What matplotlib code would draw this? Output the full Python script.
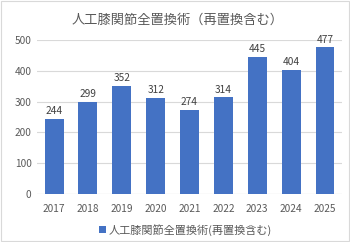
import matplotlib
matplotlib.use("Agg")
import matplotlib.pyplot as plt
from matplotlib.patches import Rectangle

plt.rcParams['font.family'] = ['Noto Sans CJK JP', 'DejaVu Sans']

years = ['2017', '2018', '2019', '2020', '2021', '2022', '2023', '2024', '2025']
counts = [244, 299, 352, 312, 274, 314, 445, 404, 477]
title = '人工膝関節全置換術（再置換含む）'
series_name = '人工膝関節全置換術(再置換含む)'
yticks = [0, 100, 200, 300, 400, 500]

gray = '#595959'
fig = plt.figure(figsize=(3.5, 2.42), dpi=100)
ax = fig.add_axes([0.106, 0.198, 0.871, 0.637])

x = range(len(years))
bars = ax.bar(x, counts, width=0.56, color='#4472C4', label=series_name, zorder=3)
for xi, v in zip(x, counts):
    ax.text(xi, v + 8, str(v), ha='center', va='bottom', fontsize=7.3, color='#404040')

ax.set_ylim(0, 500)
ax.set_xlim(-0.5, len(years) - 0.5)
ax.set_yticks(yticks)
ax.set_xticks(list(x))
ax.set_xticklabels(years)
ax.tick_params(axis='both', length=0, labelsize=7.3, colors=gray, pad=4)
ax.tick_params(axis='x', pad=7)
ax.grid(axis='y', color='#d9d9d9', linewidth=0.8, zorder=0)
for s in ax.spines.values():
    s.set_visible(False)
ax.axhline(0, color='#d9d9d9', linewidth=0.8, zorder=2)

fig.text(0.507, 0.915, title, ha='center', va='center', fontsize=9.5, color=gray)
fig.legend(handles=[bars], labels=[series_name], loc='center', bbox_to_anchor=(0.53, 0.05),
           frameon=False, fontsize=8, labelcolor=gray, handlelength=0.6, handleheight=0.6,
           handletextpad=0.3)

fig.patches.append(Rectangle((0.003, 0.004), 0.994, 0.992, transform=fig.transFigure,
                             fill=False, edgecolor='#d9d9d9', linewidth=0.8))

fig.savefig('out.png', dpi=100)
